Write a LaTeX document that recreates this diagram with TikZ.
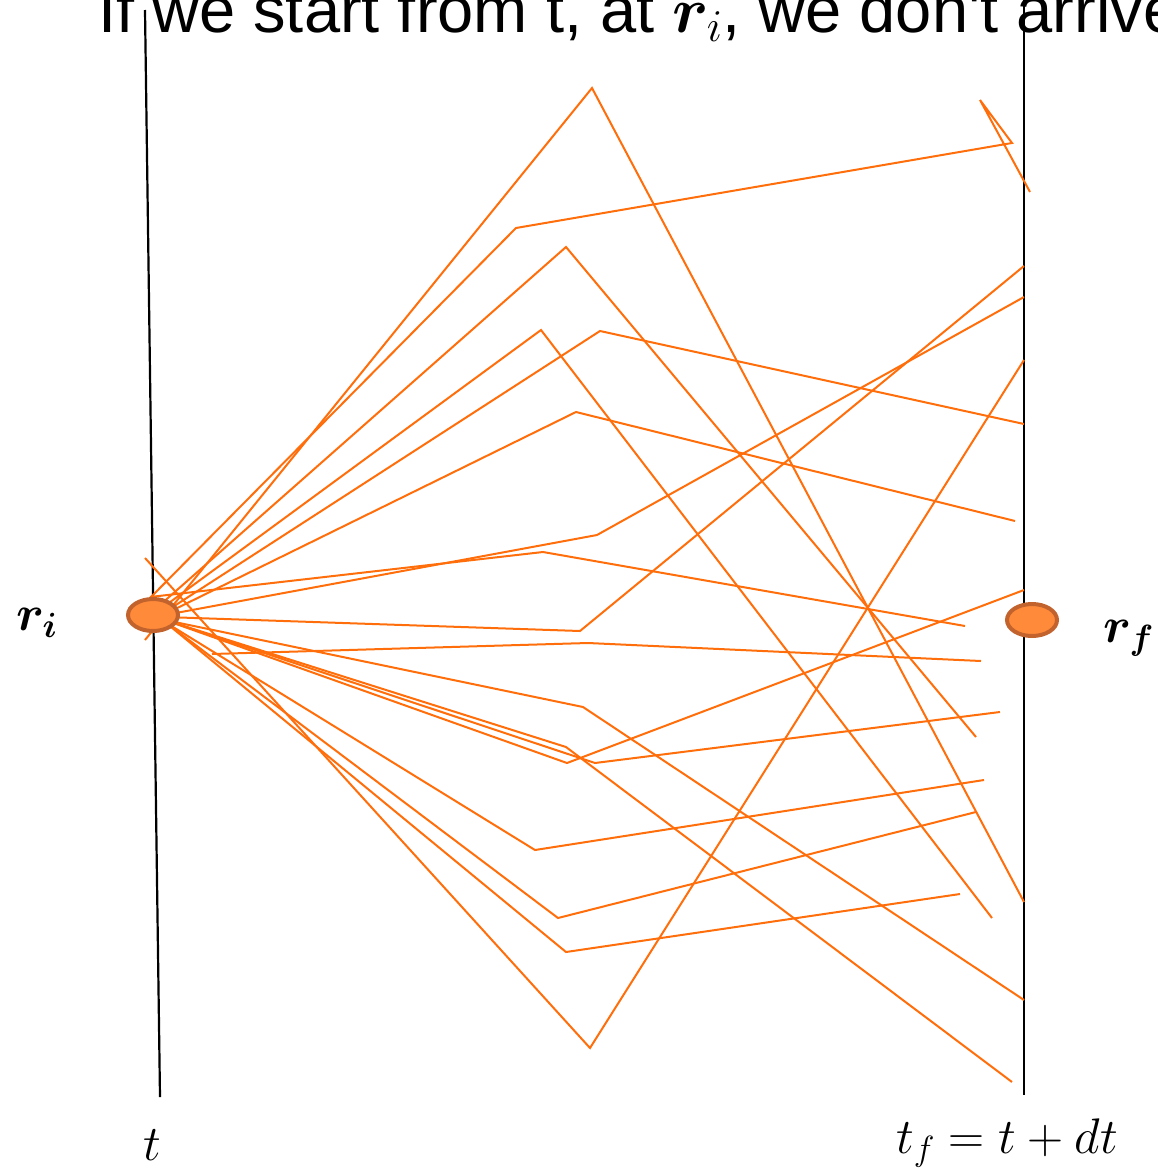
\documentclass[tikz,border=0pt]{standalone}
\usepackage{fix-cm}
\usepackage{amsmath, bm}
\usepackage{fontspec}
\newfontfamily\headfont{Liberation Sans}
\usepackage{tikz}
\usetikzlibrary{shapes.geometric}
\definecolor{pathOrange}{HTML}{FF6E0A}
\definecolor{dotFill}{HTML}{FF8A3A}
\definecolor{dotEdge}{HTML}{C2622C}

\begin{document}
\begin{tikzpicture}[x=1pt, y=-1pt,
    path/.style={draw=pathOrange, line width=2pt},
    axis/.style={draw=black, line width=2.2pt},
    dot/.style={ellipse, draw=dotEdge, fill=dotFill, line width=4pt,
      minimum width=50pt, minimum height=32pt, inner sep=0pt},
    lbl/.style={inner sep=0pt, font=\fontsize{50}{54}\selectfont}]
  \useasboundingbox (0,0) rectangle (1158,1173);
  \clip (0,0) rectangle (1158,1173);
  % heading (cut by the top edge)
  \node[anchor=base west, inner sep=0pt, font=\headfont\fontsize{65}{70}\selectfont]
    (head) at (98,32) {If we start from t, at $\bm{r}_i$, we don't arrive};
  % time lines
  \coordinate (tTop) at (145,10);
  \coordinate (tBot) at (160,1097);
  \coordinate (tfTop) at (1024,0);
  \coordinate (tfBot) at (1024,1095);
  \draw[axis] (tTop) -- (tBot);
  \draw[axis] (tfTop) -- (tfBot);
  % paths
  \foreach \ax/\ay/\bx/\by/\cx/\cy in {
      145/640/592/88/1024/902,
      160/605/566/247/976/737,
      162/608/541/330/992/918,
      165/612/600/331/1024/424,
      165/614/576/412/1015/521,
      165/615/597/535/1024/297,
      150/597/543/552/965/626,
      165/617/580/631/1024/266,
      212/654/588/643/981/661,
      145/558/590/1048/1024/360,
      165/620/583/707/1024/1000,
      165/620/566/747/1012/1082,
      165/620/567/763/1024/590,
      165/620/595/763/1000/712,
      165/622/535/850/984/780,
      165/622/558/918/976/812,
      165/622/566/952/960/894} {
    \draw[path] (\ax,\ay) -- (\bx,\by) -- (\cx,\cy);
  }
  \draw[path] (150,598) -- (516,228) -- (1012,143) -- (980,100) -- (1030,192);
  % end points
  \node[dot] (ri) at (153,615) {};
  \node[dot] (rf) at (1032,620) {};
  \node[lbl, anchor=base west] (riLbl) at (16,630) {$\bm{r_i}$};
  \node[lbl, anchor=base west] (rfLbl) at (1103,642) {$\bm{r_f}$};
  \node[lbl, anchor=base west] (tLbl) at (143,1160) {$t$};
  \node[lbl, anchor=base west] (tfLbl) at (896,1153) {$t_f = t + dt$};
\end{tikzpicture}
\end{document}
